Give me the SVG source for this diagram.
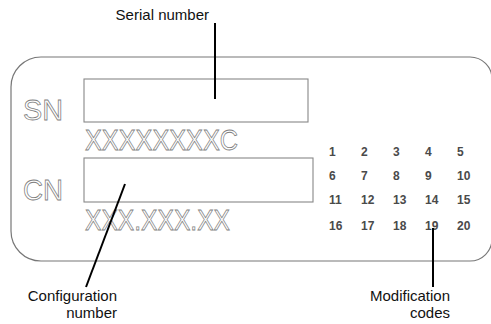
<svg xmlns="http://www.w3.org/2000/svg" width="491" height="324" viewBox="0 0 491 324">
<style>
.frame{fill:none;stroke:#777;stroke-width:1.2}
.box{fill:#fff;stroke:#888;stroke-width:1.1}
.big{font-family:"Liberation Sans",Arial,sans-serif;font-size:30px;fill:#fff;stroke:#808080;stroke-width:0.8}
.num{font-family:"Liberation Sans",Arial,sans-serif;font-size:12px;font-weight:bold;fill:#4a4a4a}
.lbl{font-family:"Liberation Sans",Arial,sans-serif;font-size:15px;fill:#111}
.lead{stroke:#000;stroke-width:2;fill:none}
</style>
<rect width="491" height="324" fill="#fff"/>
<g id="label-plate">
<path class="frame" d="M41,57 H470 A22,22 0 0 1 492,79 V239 A22,22 0 0 1 470,261 H41 A30,30 0 0 1 11,231 V87 A30,30 0 0 1 41,57 Z"/>
</g>
<g id="sn">
<text class="big" x="23" y="120" textLength="40" lengthAdjust="spacingAndGlyphs">SN</text>
<rect class="box" x="84" y="79" width="224" height="43"/>
<text class="big" x="85" y="150" textLength="153" lengthAdjust="spacingAndGlyphs">XXXXXXXXC</text>
</g>
<g id="cn">
<text class="big" x="23" y="200" textLength="40" lengthAdjust="spacingAndGlyphs">CN</text>
<rect class="box" x="84" y="158" width="229" height="44"/>
<text class="big" x="85" y="230" textLength="145" lengthAdjust="spacingAndGlyphs">XXX.XXX.XX</text>
</g>
<g id="mod-codes">
<text class="num" x="329" y="156">1</text><text class="num" x="361" y="156">2</text><text class="num" x="393" y="156">3</text><text class="num" x="425" y="156">4</text><text class="num" x="457" y="156">5</text>
<text class="num" x="329" y="180">6</text><text class="num" x="361" y="180">7</text><text class="num" x="393" y="180">8</text><text class="num" x="425" y="180">9</text><text class="num" x="457" y="180">10</text>
<text class="num" x="329" y="204">11</text><text class="num" x="361" y="204">12</text><text class="num" x="393" y="204">13</text><text class="num" x="425" y="204">14</text><text class="num" x="457" y="204">15</text>
<text class="num" x="329" y="230">16</text><text class="num" x="361" y="230">17</text><text class="num" x="393" y="230">18</text><text class="num" x="425" y="230">19</text><text class="num" x="457" y="230">20</text>
</g>
<g id="label-serial">
<text class="lbl" x="209" y="20" text-anchor="end">Serial number</text>
</g>
<g id="label-config">
<text class="lbl" x="117" y="301" text-anchor="end">Configuration</text>
<text class="lbl" x="117" y="318" text-anchor="end">number</text>
</g>
<g id="label-mod">
<text class="lbl" x="450" y="301" text-anchor="end">Modification</text>
<text class="lbl" x="450" y="318" text-anchor="end">codes</text>
</g>
<g id="connectors">
<line class="lead" x1="215" y1="23" x2="215" y2="99"/>
<line class="lead" x1="125" y1="184" x2="86" y2="287"/>
<line class="lead" x1="433" y1="228" x2="433" y2="287"/>
</g>
</svg>
